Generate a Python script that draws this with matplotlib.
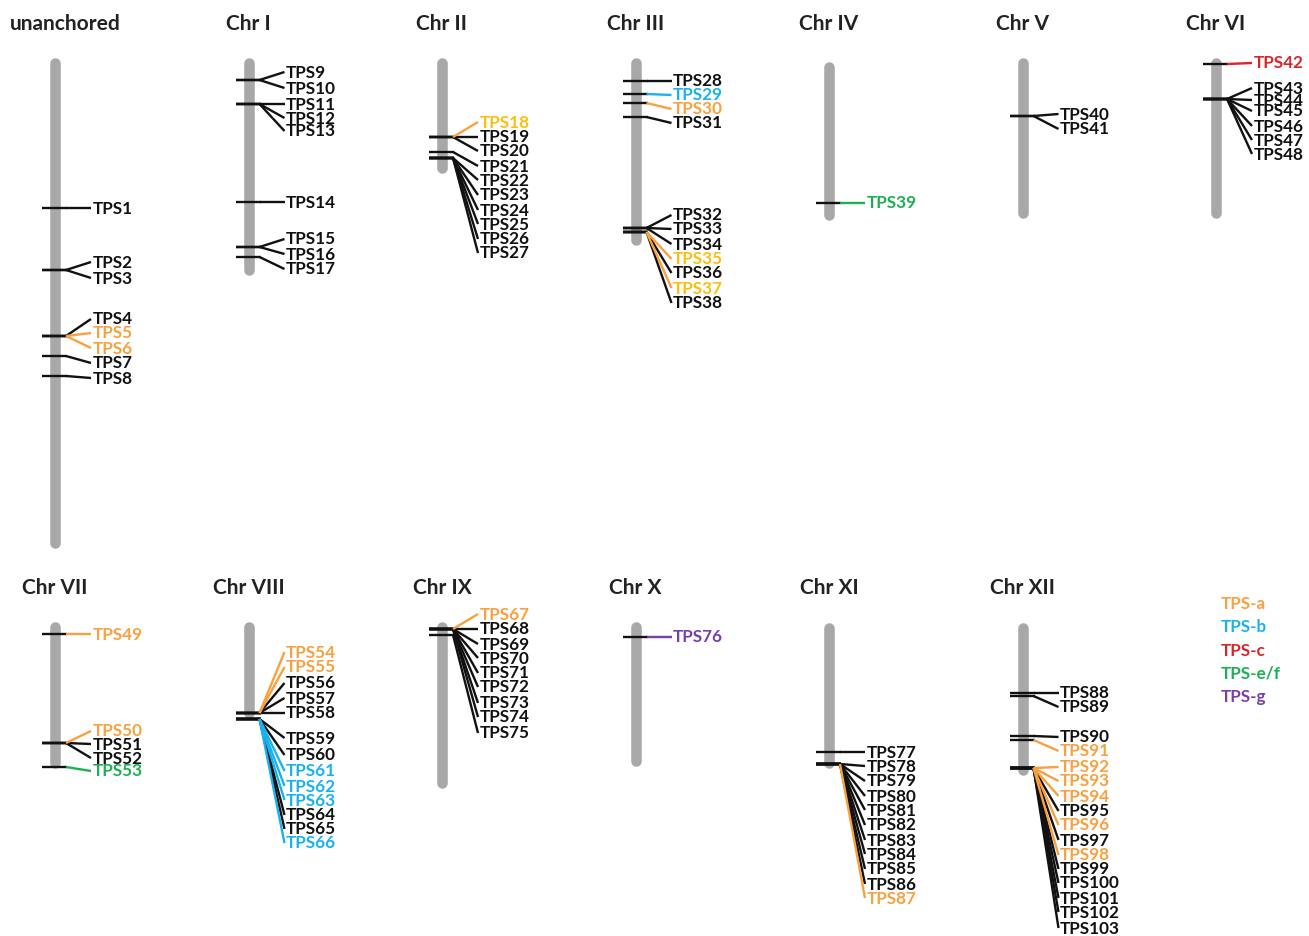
import matplotlib
matplotlib.use("Agg")
import matplotlib.pyplot as plt

# ---------------- data ----------------
chrom_names = ["unanchored", "Chr I", "Chr II", "Chr III", "Chr IV", "Chr V", "Chr VI",
               "Chr VII", "Chr VIII", "Chr IX", "Chr X", "Chr XI", "Chr XII"]
chrom_start = [0, 0, 0, 0, 4, 0, 0, 0, 0, 0, 0, 1, 1]
chrom_end = [490, 217, 115, 187, 162, 160, 160, 146, 96, 166, 144, 146, 153]

# gene position on each chromosome (same units as chromosome length)
gene_pos = [
    [150, 212, 212, 278, 278, 278, 298, 318],
    [22, 22, 46, 46, 46, 144, 189, 189, 199],
    [79, 79, 79, 94, 100, 100, 100, 100, 100, 100],
    [23, 36, 45, 59, 170, 170, 170, 174, 174, 174, 174],
    [145],
    [58, 58],
    [6, 41, 41, 41, 41, 41, 41],
    [12, 121, 121, 121, 145],
    [91, 91, 91, 91, 91, 97, 97, 97, 97, 97, 97, 97, 97],
    [7, 7, 7, 7, 7, 7, 7, 7, 13],
    [15],
    [130, 142, 142, 142, 142, 142, 142, 142, 142, 142, 142],
    [71, 74, 114, 118, 146, 146, 146, 146, 146, 146, 146, 146, 146, 146, 146, 146],
]
# label position of each gene name
label_pos = [
    [150, 204, 220, 261, 275, 290, 305, 320],
    [14, 30, 46, 60, 73, 144, 181, 196, 211],
    [64, 79, 93, 108, 122, 137, 152, 166, 181, 195],
    [23, 37, 51, 65, 157, 171, 186, 201, 215, 230, 245],
    [145],
    [56, 71],
    [5, 30, 42, 53, 68, 82, 96],
    [12, 109, 122, 136, 149],
    [30, 45, 61, 76, 91, 116, 133, 149, 164, 178, 193, 207, 221],
    [-8, 7, 22, 36, 51, 65, 81, 95, 111],
    [15],
    [130, 144, 159, 174, 188, 203, 218, 232, 247, 262, 276],
    [71, 85, 115, 129, 145, 159, 174, 189, 203, 218, 233, 247, 261, 276, 290, 306],
]

tps_a = [5, 6, 18, 30, 35, 37, 49, 50, 54, 55, 67, 87, 91, 92, 93, 94, 96, 98]
tps_b = [29, 61, 62, 63, 66]
tps_c = [42]
tps_ef = [39, 53]
tps_g = [76]
gold_text = [18, 35, 37]

legend_labels = ["TPS-a", "TPS-b", "TPS-c", "TPS-e/f", "TPS-g"]

# ---------------- style ----------------
C_A, C_B, C_C, C_EF, C_G = "#F9A040", "#1AB2EE", "#D8252B", "#1DB052", "#7A3DAA"
C_GOLD = "#FDBE10"
C_BAR = "#A8A8A8"
C_TXT = "#111111"
FONT = ["Lato", "DejaVu Sans"]

W, H = 1309, 936
fig = plt.figure(figsize=(W / 100, H / 100), dpi=100)
ax = fig.add_axes([0, 0, 1, 1])
ax.set_xlim(0, W)
ax.set_ylim(H, 0)
ax.axis("off")

row_base = [58, 622]
per_row = 7
x0, dx = 55, 193.5
bar_lw = 7.6  # points


def gene_color(n):
    if n in tps_a:
        return C_A
    if n in tps_b:
        return C_B
    if n in tps_c:
        return C_C
    if n in tps_ef:
        return C_EF
    if n in tps_g:
        return C_G
    return C_TXT


gene_no = 0
for ci, name in enumerate(chrom_names):
    row, col = divmod(ci, per_row)
    xc = x0 + col * dx
    yb = row_base[row]
    # title
    if ci == 0:
        ax.text(10, yb - 34, name, fontsize=15, fontweight="bold", family=FONT,
                color="#222222", ha="left", va="center")
    else:
        ax.text(xc, yb - 34, name, fontsize=15, fontweight="bold", family=FONT,
                color="#222222", ha="center", va="center")
    # chromosome bar (round caps)
    r = 5
    ax.plot([xc, xc], [yb + chrom_start[ci] + r, yb + chrom_end[ci] - r],
            color=C_BAR, lw=bar_lw, solid_capstyle="round", zorder=1)
    for p, lp in zip(gene_pos[ci], label_pos[ci]):
        gene_no += 1
        col_g = gene_color(gene_no)
        y = yb + p
        ly = yb + lp
        z = 3 if col_g != C_TXT else 2
        ax.plot([xc - 13, xc + 12], [y, y], color=C_TXT, lw=1.7,
                solid_capstyle="butt", zorder=2)
        ax.plot([xc + 11, xc + 36], [y, ly], color=col_g, lw=1.7,
                solid_capstyle="butt", zorder=z)
        tc = C_GOLD if gene_no in gold_text else col_g
        ax.text(xc + 37.5, ly + 0.5, f"TPS{gene_no}", fontsize=12.3, fontweight="bold",
                family=FONT, color=tc, ha="left", va="center", zorder=4)

# legend
for i, (lab, c) in enumerate(zip(legend_labels, [C_A, C_B, C_C, C_EF, C_G])):
    ax.text(1221, 604 + i * 23.3, lab, fontsize=12.3, fontweight="bold",
            family=FONT, color=c, ha="left", va="center")

fig.savefig("out.png", dpi=100)
